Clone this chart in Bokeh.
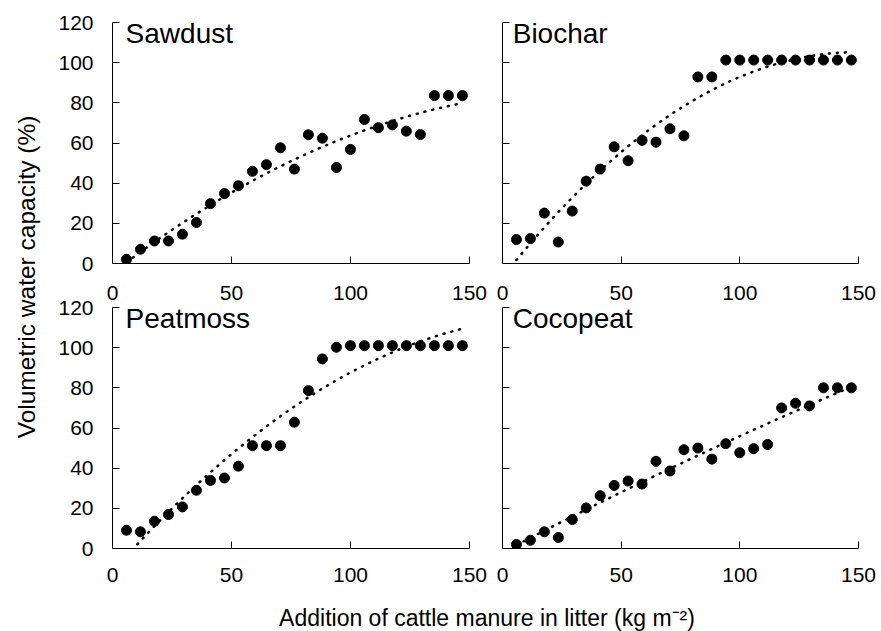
import numpy as np
from bokeh.plotting import figure
from bokeh.layouts import row, column
from bokeh.models import Range1d, FixedTicker, LinearAxis, Label, GridBox
from bokeh.embed import file_html
from bokeh.resources import INLINE

FONT = "Liberation Sans"

# ---- data ----
manure = [5.88, 11.76, 17.64, 23.52, 29.4, 35.28, 41.16, 47.04, 52.92, 58.8,
          64.68, 70.56, 76.44, 82.32, 88.2, 94.08, 99.96, 105.84, 111.72, 117.6,
          123.48, 129.36, 135.24, 141.12, 147.0]
sawdust = [2.1, 7.1, 11.2, 11.2, 14.6, 20.4, 29.8, 34.8, 38.7, 45.9, 49.2, 57.6, 47.0,
           64.1, 62.4, 47.8, 56.8, 71.7, 67.6, 69.0, 65.9, 64.2, 83.6, 83.6, 83.6]
biochar = [11.9, 12.4, 25.1, 10.7, 26.1, 41.0, 47.0, 58.1, 51.2, 61.3, 60.4, 67.1, 63.6,
           92.9, 92.9, 101.3, 101.3, 101.3, 101.3, 101.3, 101.3, 101.3, 101.3, 101.3, 101.3]
peatmoss = [9.1, 8.3, 13.6, 16.9, 20.7, 29.0, 33.9, 35.1, 41.0, 51.2, 51.2, 51.2, 62.9,
            78.6, 94.4, 100.2, 101.0, 101.0, 101.0, 101.0, 101.0, 101.0, 101.0, 101.0, 101.0]
cocopeat = [2.0, 4.1, 8.3, 5.5, 14.4, 20.2, 26.3, 31.4, 33.6, 32.1, 43.4, 38.6, 49.2,
            50.0, 44.5, 52.2, 47.7, 49.7, 51.8, 70.0, 72.3, 71.0, 80.0, 80.0, 80.0]
panel_names = ["Sawdust", "Biochar", "Peatmoss", "Cocopeat"]
x_ticks = [0, 50, 100, 150]
y_ticks = [0, 20, 40, 60, 80, 100, 120]
y_title = "Volumetric water capacity (%)"
x_title = "Addition of cattle manure in litter (kg m\u207b\u00b2)"

TICK_PX = "21px"
PANEL_TITLE_PX = "28px"
X_TITLE_PX = "23px"
Y_TITLE_PX = "24.5px"

# layout (pixels)
YL_W = 44
LEFT_W, RIGHT_W = 446, 388
TOP_H, BOT_H = 275, 319
XL_H = 631 - TOP_H - BOT_H


def style_axis(ax, ticks, show_labels):
    ax.ticker = FixedTicker(ticks=ticks)
    ax.axis_line_color = "black"
    ax.axis_line_width = 1
    ax.major_tick_line_color = "black"
    ax.major_tick_line_width = 1
    ax.major_tick_in = 7
    ax.major_tick_out = 0
    ax.minor_tick_line_color = None
    ax.major_label_text_font = FONT
    ax.major_label_text_color = "black"
    if show_labels:
        ax.major_label_text_font_size = TICK_PX
    else:
        ax.major_label_overrides = {t: "" for t in ticks}
        ax.major_label_text_font_size = "1px"
        ax.major_label_standoff = 0


def title_only_axis(label, standoff, size):
    ax = LinearAxis(ticker=FixedTicker(ticks=[]))
    ax.axis_line_color = None
    ax.major_tick_line_color = None
    ax.minor_tick_line_color = None
    ax.major_tick_in = 0
    ax.major_tick_out = 0
    ax.major_label_text_font_size = "1px"
    ax.major_label_standoff = 0
    ax.axis_label = label
    ax.axis_label_text_font = FONT
    ax.axis_label_text_font_size = size
    ax.axis_label_text_font_style = "normal"
    ax.axis_label_text_color = "black"
    ax.axis_label_standoff = standoff
    return ax


def make_panel(name, yvals, left_col, top_row, title_x):
    width = LEFT_W if left_col else RIGHT_W
    height = TOP_H if top_row else BOT_H
    p = figure(width=width, height=height,
               x_range=Range1d(0, 150), y_range=Range1d(0, 120),
               output_backend="svg", toolbar_location=None,
               min_border_left=68 if left_col else 12,
               min_border_right=21 if left_col else 20,
               min_border_top=22 if top_row else 32,
               min_border_bottom=12 if top_row else 46)
    p.outline_line_color = None
    p.grid.visible = False
    p.background_fill_color = "white"
    p.border_fill_color = "white"

    style_axis(p.xaxis[0], x_ticks, show_labels=not top_row)
    if not top_row:
        p.xaxis[0].major_label_standoff = 19
    style_axis(p.yaxis[0], y_ticks, show_labels=left_col)
    if left_col:
        p.yaxis[0].major_label_standoff = 19

    if not top_row:
        # tick labels belonging to the panel above (same x scale)
        above = LinearAxis(ticker=FixedTicker(ticks=x_ticks))
        above.axis_line_color = None
        above.major_tick_line_color = None
        above.minor_tick_line_color = None
        above.major_tick_in = 0
        above.major_tick_out = 0
        above.major_label_text_font = FONT
        above.major_label_text_font_size = TICK_PX
        above.major_label_text_color = "black"
        above.major_label_standoff = 8
        p.add_layout(above, "above")

    # quadratic trend line (Excel-style polynomial trendline) fitted to the data
    coef = np.polyfit(manure, yvals, 2)
    xs = np.linspace(min(manure), max(manure), 200)
    p.line(xs, np.polyval(coef, xs), line_color="black", line_width=2.5,
           line_dash="1 7", line_cap="round")
    p.scatter(manure, yvals, size=10, marker="circle",
              fill_color="black", line_color="black")

    p.add_layout(Label(x=title_x, y=114.5, text=name, text_font=FONT,
                       text_font_size=PANEL_TITLE_PX, text_color="black",
                       text_align="left", text_baseline="middle"))
    return p


tl = make_panel(panel_names[0], sawdust, True, True, 5.5)
tr = make_panel(panel_names[1], biochar, False, True, 4.3)
bl = make_panel(panel_names[2], peatmoss, True, False, 5.5)
br = make_panel(panel_names[3], cocopeat, False, False, 4.3)

panels = GridBox(children=[(tl, 0, 0), (tr, 0, 1), (bl, 1, 0), (br, 1, 1)], spacing=0)

# y-axis title (standalone strip to the left of the panels)
YL_H = TOP_H + BOT_H
yl = figure(width=YL_W, height=YL_H, x_range=Range1d(0, 1), y_range=Range1d(0, 1),
            output_backend="svg", toolbar_location=None, x_axis_type=None,
            y_axis_type=None, title=None,
            min_border_left=40, min_border_right=0,
            min_border_top=0, min_border_bottom=41)
yl.outline_line_color = None
yl.grid.visible = False
yl.add_layout(title_only_axis(y_title, 1, Y_TITLE_PX), "left")

# x-axis title (standalone strip below the panels)
XL_W = YL_W + LEFT_W + RIGHT_W
xl = figure(width=XL_W, height=XL_H, x_range=Range1d(0, 1), y_range=Range1d(0, 1),
            output_backend="svg", toolbar_location=None, x_axis_type=None,
            y_axis_type=None, title=None,
            min_border_left=116, min_border_right=21,
            min_border_top=0, min_border_bottom=XL_H - 1)
xl.outline_line_color = None
xl.grid.visible = False
xl.add_layout(title_only_axis(x_title, 10, X_TITLE_PX), "below")

layout = column(row(yl, panels, spacing=0), xl, spacing=0)

open("out.html", "w").write(file_html(layout, INLINE))
